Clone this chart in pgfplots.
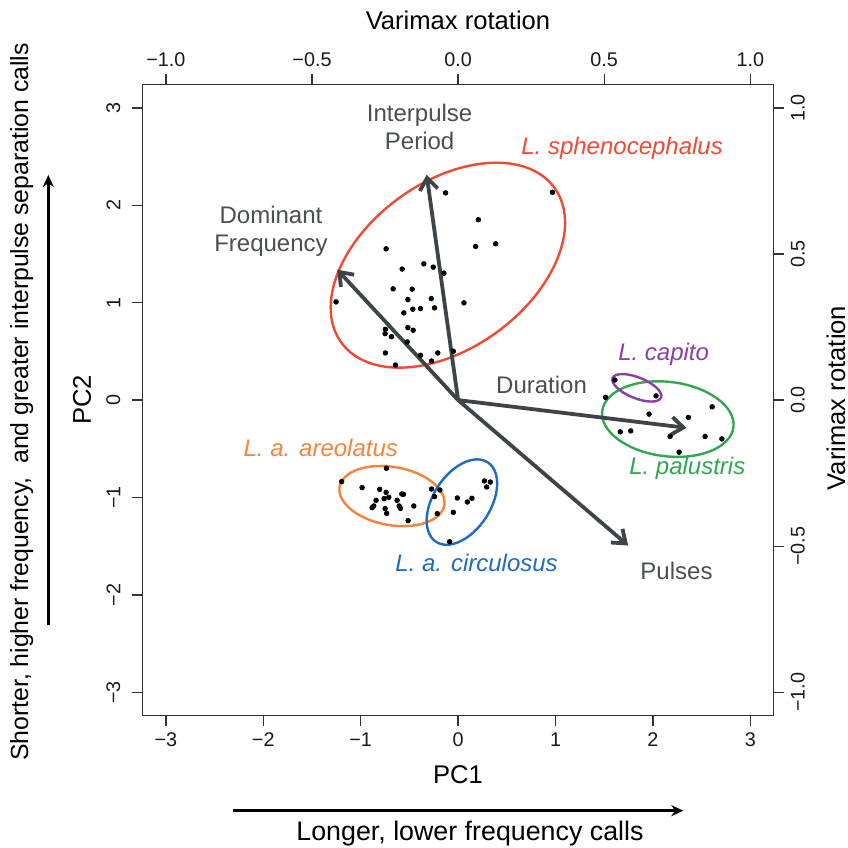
\documentclass[border=0pt]{standalone}
\usepackage{pgfplots}
\pgfplotsset{compat=1.18}
\usepackage{fontspec}
\setmainfont{Liberation Sans}
\usetikzlibrary{arrows.meta}
\definecolor{cred}{HTML}{EF4A32}
\definecolor{corange}{HTML}{F5843A}
\definecolor{cblue}{HTML}{1E6BC0}
\definecolor{cgreen}{HTML}{2FA84F}
\definecolor{cpurple}{HTML}{8B3FA6}
\definecolor{cgray}{HTML}{3E4447}
\definecolor{ctext}{HTML}{4A4F52}
\begin{document}
\begin{tikzpicture}
\useasboundingbox (-71.25pt,-66.15pt) rectangle (352.75pt,357.85pt);
\begin{axis}[
  scale only axis, width=315.6pt, height=315.6pt,
  xmin=-3.24, xmax=3.24, ymin=-3.24, ymax=3.24,
  xtick={-3,-2,-1,0,1,2,3}, xticklabels={−3,−2,−1,0,1,2,3},
  ytick={-3,-2,-1,0,1,2,3}, yticklabels={−3,−2,−1,0,1,2,3},
  xtick pos=left, ytick pos=left,
  tick align=outside, major tick length=5pt,
  ticklabel style={font=\fontsize{9.9}{11}\selectfont, text=black!90},
  yticklabel style={rotate=90, anchor=south},
  yticklabel shift=2.5pt,
  axis line style={color=black!80, line width=0.7pt},
  every tick/.style={black!80, line width=0.7pt},
  clip=false,
]
% ellipses
\draw[cred, line width=1.2pt, rotate around={36:(axis cs:-0.105,1.385)}] (axis cs:-0.105,1.385) ellipse [x radius=65.85pt, y radius=41.5pt];
\draw[corange, line width=1.2pt, rotate around={-10:(axis cs:-0.679,-0.985)}] (axis cs:-0.679,-0.985) ellipse [x radius=26.55pt, y radius=14.55pt];
\draw[cblue, line width=1.2pt, rotate around={57:(axis cs:0.039,-1.047)}] (axis cs:0.039,-1.047) ellipse [x radius=23.7pt, y radius=14.3pt];
\draw[cgreen, line width=1.2pt, rotate around={-7:(axis cs:2.153,-0.195)}] (axis cs:2.153,-0.195) ellipse [x radius=33.05pt, y radius=18.6pt];
\draw[cpurple, line width=1.2pt, rotate around={-22:(axis cs:1.835,0.126)}] (axis cs:1.835,0.126) ellipse [x radius=13.05pt, y radius=5.2pt];
% points
\addplot[only marks, mark=*, mark size=1.15pt, black] coordinates {
(-0.129,2.127) (0.969,2.133) (0.208,1.852) (0.180,1.577) (0.386,1.605)
(-0.739,1.553) (-0.574,1.345) (-0.352,1.399) (-0.255,1.365) (-0.146,1.303)
(-0.667,1.142) (-0.471,1.139) (-0.516,1.032) (-0.276,1.042) (-1.253,1.008)
(0.060,0.998) (-0.465,0.933) (-0.386,0.939) (-0.242,0.947) (-0.558,0.895)
(-0.516,0.744) (-0.461,0.717) (-0.746,0.727) (-0.749,0.682) (-0.684,0.651)
(-0.523,0.597) (-0.746,0.484) (-0.386,0.460) (-0.208,0.484) (-0.049,0.501)
(-0.273,0.401) (-0.643,0.360)
(-0.736,-0.700) (-1.195,-0.836) (-0.986,-0.898) (-0.805,-0.916) (-0.739,-0.947)
(-0.578,-0.964) (-0.561,-0.967) (-0.759,-1.011) (-0.712,-0.998) (-0.626,-1.029)
(-0.842,-1.029) (-0.866,-1.087) (-0.883,-1.104) (-0.605,-1.087) (-0.592,-1.111)
(-0.455,-1.087) (-0.749,-1.114) (-0.733,-1.163) (-0.513,-1.238)
(-0.273,-0.913) (-0.187,-0.923) (-0.242,-0.991) (-0.008,-1.005) (0.142,-1.008)
(0.095,-1.046) (0.270,-0.830) (0.331,-0.841) (0.293,-0.892) (-0.214,-1.166)
(-0.049,-1.152) (-0.087,-1.454)
(1.610,0.206) (1.514,0.028) (2.032,0.044) (1.960,-0.144) (2.608,-0.069)
(2.364,-0.178) (1.665,-0.326) (1.772,-0.316) (2.176,-0.373) (2.536,-0.373)
(2.708,-0.398) (2.269,-0.535)
};
% loading arrows
\addplot[cgray, line width=1.9pt, -{Straight Barb[length=6pt,width=9pt]}] coordinates {(0,0) (-0.323,2.314)};
\addplot[cgray, line width=1.9pt, -{Straight Barb[length=6pt,width=9pt]}] coordinates {(0,0) (-1.241,1.339)};
\addplot[cgray, line width=1.9pt, -{Straight Barb[length=6pt,width=9pt]}] coordinates {(0,0) (2.345,-0.285)};
\addplot[cgray, line width=1.9pt, -{Straight Barb[length=6pt,width=9pt]}] coordinates {(0,0) (1.746,-1.493)};
% labels
\node[ctext, align=center, font=\fontsize{12}{14}\selectfont] at (axis cs:-0.395,2.801) {Interpulse\\Period};
\node[ctext, align=center, font=\fontsize{12}{14}\selectfont] at (axis cs:-1.921,1.729) {Dominant\\Frequency};
\node[ctext, font=\fontsize{12}{14}\selectfont] at (axis cs:0.857,0.160) {Duration};
\node[ctext, font=\fontsize{12}{14}\selectfont] at (axis cs:2.242,-1.757) {Pulses};
\node[cred, font=\fontsize{12}{14}\selectfont\itshape] at (axis cs:1.684,2.588) {L. sphenocephalus};
\node[cpurple, font=\fontsize{12}{14}\selectfont\itshape] at (axis cs:2.110,0.467) {L. capito};
\node[cgreen, font=\fontsize{12}{14}\selectfont\itshape] at (axis cs:2.353,-0.703) {L. palustris};
\node[corange, font=\fontsize{12}{14}\selectfont\itshape] at (axis cs:-1.410,-0.490) {L. a. areolatus};
\node[cblue, font=\fontsize{12}{14}\selectfont\itshape] at (axis cs:0.190,-1.671) {L. a. circulosus};
\end{axis}
\begin{axis}[
  scale only axis, width=315.6pt, height=315.6pt,
  xmin=-1.08, xmax=1.08, ymin=-1.08, ymax=1.08,
  axis x line*=top, axis y line*=right,
  xtick={-1,-0.5,0,0.5,1}, xticklabels={−1.0,−0.5,0.0,0.5,1.0},
  ytick={-1,-0.5,0,0.5,1}, yticklabels={−1.0,−0.5,0.0,0.5,1.0},
  tick align=outside, major tick length=5pt,
  ticklabel style={font=\fontsize{9.9}{11}\selectfont, text=black!90},
  yticklabel style={rotate=90, anchor=north},
  xticklabel shift=0.5pt,
  axis line style={color=black!80, line width=0.7pt},
  every tick/.style={black!80, line width=0.7pt},
]
\end{axis}
% axis labels
\node[font=\fontsize{12.8}{15}\selectfont] at (157.75pt,-29.65pt) {PC1};
\node[font=\fontsize{12.8}{15}\selectfont, rotate=90] at (-30.25pt,157.85pt) {PC2};
\node[font=\fontsize{12.8}{15}\selectfont] at (157.75pt,347.85pt) {Varimax rotation};
\node[font=\fontsize{12.8}{15}\selectfont, rotate=90] at (346.75pt,158.85pt) {Varimax rotation};
\node[font=\fontsize{12.4}{15}\selectfont, rotate=90] at (-60.4pt,156.85pt) {Shorter, higher frequency,\ \ and greater interpulse separation calls};
\node[font=\fontsize{13.4}{15}\selectfont] at (163.75pt,-59.15pt) {Longer, lower frequency calls};
\draw[line width=1.4pt, -{Stealth[length=6pt,width=5.5pt]}] (-47.1pt,45.35pt) -- (-47.1pt,270.35pt);
\draw[line width=1.4pt, -{Stealth[length=6pt,width=5.5pt]}] (45.25pt,-47.5pt) -- (270.4pt,-47.5pt);
\end{tikzpicture}
\end{document}
